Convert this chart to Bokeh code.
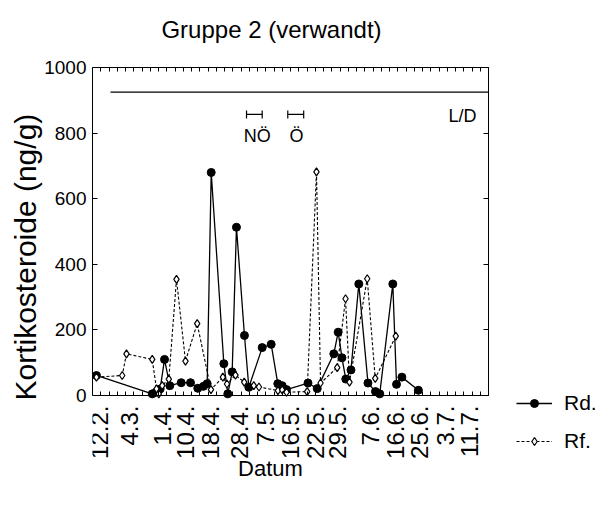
import math

from bokeh.plotting import figure
from bokeh.models import (Range1d, LinearAxis, FixedTicker, Legend,
                          LegendItem, Title)
from bokeh.core.properties import value
from bokeh.embed import file_html
from bokeh.resources import INLINE

FONT = "Liberation Sans"

# Sampling positions along the date axis (one unit = one minor tick)
rd_x = [0.48, 7.24, 7.7, 8.2, 8.73, 9.37, 10.75, 11.88, 12.76, 13.45, 13.9,
        14.39, 15.92, 16.4, 16.93, 17.45, 18.42, 18.95, 20.57, 21.66, 22.46,
        22.99, 23.52, 26.12, 27.24, 29.25, 29.78, 30.24, 30.7, 31.33, 32.28,
        33.39, 34.3, 34.82, 36.4, 36.85, 37.5, 39.5]
rd_y = [61, 5, 10, 20, 110, 30, 39, 39, 22, 28, 36,
        680, 97, 5, 72, 513, 183, 25, 146, 156, 36,
        30, 18, 38, 21, 127, 193, 115, 50, 78, 340,
        38, 12, 5, 340, 34, 56, 16]

rf_x = [0.48, 3.6, 4.12, 7.24, 7.76, 8.04, 8.45, 9.25, 10.18, 11.27, 12.69,
        14.36, 15.8, 16.3, 17.33, 18.39, 19.55, 20.18, 22.48, 22.99, 23.52,
        26.02, 27.15, 27.64, 29.66, 30.67, 31.15, 33.3, 34.27, 36.76]
rf_y = [56, 61, 127, 110, 20, 5, 30, 50, 354, 105, 219,
        18, 56, 35, 62, 41, 30, 26, 15, 17, 10,
        12, 682, 38, 85, 295, 41, 356, 52, 181]

# Date labels on the x axis
date_pos = [0.85, 4.48, 8.52, 11.27, 14.3, 17.82, 20.97, 24.0, 27.03, 29.7,
            33.7, 36.73, 39.64, 42.79, 45.7]
date_lab = ["12.2.", "4.3.", "1.4.", "10.4.", "18.4.", "28.4.", "7.5.",
            "16.5.", "22.5.", "29.5.", "7.6.", "16.6.", "25.6.", "3.7.",
            "11.7."]
y_ticks = [0, 200, 400, 600, 800, 1000]

# Light/dark bar and the two marked intervals
ld_start, ld_end, ld_level = 2.18, 48, 925
ld_text_x, ld_text_y = 44.85, 851
iv_start = [18.67, 23.67]
iv_end = [20.57, 25.6]
iv_level = 857
iv_names = ["NÖ", "Ö"]
iv_text_x = [19.96, 24.73]
iv_text_y = 790

# Axis box: x 0..48, y 0..1000.  The plotting area is widened past the box
# so that title, date labels, axis title and key can sit around it.
X_MAX, Y_MAX = 48, 1000
W, H = 605, 509
LEFT = 92
PX_X = 8.25            # pixels per x unit
PX_Y = 0.328           # pixels per y unit
BOX_BOTTOM = 395       # pixel row of y = 0
x_end = (W - LEFT) / PX_X
y_end = BOX_BOTTOM / PX_Y
y_start = -(H - BOX_BOTTOM) / PX_Y

minor_x = list(range(0, X_MAX + 1))

p = figure(width=W, height=H, x_range=Range1d(0, x_end),
           y_range=Range1d(y_start, y_end), output_backend="svg",
           toolbar_location=None, min_border_left=LEFT, min_border_right=0,
           min_border_top=0, min_border_bottom=0)
p.background_fill_color = "white"
p.border_fill_color = "white"
p.outline_line_color = None
p.xgrid.grid_line_color = None
p.ygrid.grid_line_color = None

# Bottom edge of the box: inward ticks, labels drawn as text below
xa = p.xaxis[0]
xa.fixed_location = 0
xa.bounds = (0, X_MAX)
xa.ticker = FixedTicker(ticks=minor_x)
xa.major_tick_in = 4
xa.major_tick_out = 0
xa.minor_tick_line_color = None
xa.major_label_standoff = 0
xa.major_label_text_color = None
xa.major_label_text_font_size = "1px"
xa.axis_line_color = "black"

# Left edge with value labels
ya = p.yaxis[0]
ya.bounds = (0, Y_MAX)
ya.ticker = FixedTicker(ticks=y_ticks)
ya.major_tick_in = 5
ya.major_tick_out = 0
ya.minor_tick_line_color = None
ya.major_label_standoff = 6
ya.major_label_text_font = FONT
ya.major_label_text_font_size = "19px"
ya.major_label_text_color = "black"
ya.axis_line_color = "black"

# Top and right edges of the box, ticks only
top = LinearAxis(fixed_location=Y_MAX, bounds=(0, X_MAX),
                 ticker=FixedTicker(ticks=minor_x), major_tick_in=4,
                 major_tick_out=0, minor_tick_line_color=None,
                 major_label_standoff=0, major_label_text_color=None,
                 major_label_text_font_size="1px", axis_line_color="black")
p.add_layout(top, "above")
right = LinearAxis(fixed_location=X_MAX, bounds=(0, Y_MAX),
                   ticker=FixedTicker(ticks=y_ticks), major_tick_in=5,
                   major_tick_out=0, minor_tick_line_color=None,
                   major_label_standoff=0, major_label_text_color=None,
                   major_label_text_font_size="1px", axis_line_color="black")
p.add_layout(right, "right")

# Date labels under the box
p.text(x=date_pos, y=[-10 / PX_Y] * len(date_pos), text=date_lab,
       angle=math.pi / 2, text_align="right", text_baseline="middle",
       text_font=value(FONT), text_font_size="24px", text_color="black")

# Data series
rd_line = p.line(rd_x, rd_y, line_color="black", line_width=1.3)
rd_pts = p.scatter(rd_x, rd_y, marker="circle", size=8,
                   fill_color="black", line_color="black")
rf_line = p.line(rf_x, rf_y, line_color="black", line_width=1.1,
                 line_dash="3 2")
rf_pts = p.scatter(rf_x, rf_y, marker="diamond", size=8,
                   fill_color="white", line_color="black", line_width=1.2)

# Light/dark bar and interval annotations
p.segment(x0=[ld_start], y0=[ld_level], x1=[ld_end], y1=[ld_level],
          line_color="black", line_width=1.2)
p.text(x=[ld_text_x], y=[ld_text_y], text=["L/D"], text_font=value(FONT),
       text_font_size="18px", text_align="center", text_baseline="middle",
       text_color="black")
p.segment(x0=iv_start, y0=[iv_level] * 2, x1=iv_end, y1=[iv_level] * 2,
          line_color="black", line_width=1.2)
p.scatter(x=iv_start + iv_end, y=[iv_level] * 4, marker="dash",
          angle=math.pi / 2, size=8, line_color="black", line_width=1.2)
p.text(x=iv_text_x, y=[iv_text_y] * 2, text=iv_names,
       text_font=value(FONT), text_font_size="18px", text_align="center",
       text_baseline="middle", text_color="black")

# Chart title and x-axis title
p.text(x=[(271 - LEFT) / PX_X], y=[(BOX_BOTTOM - 29) / PX_Y],
       text=["Gruppe 2 (verwandt)"], text_font=value(FONT),
       text_font_size="24px", text_align="center",
       text_baseline="alphabetic", text_color="black")
p.text(x=[(270 - LEFT) / PX_X], y=[(BOX_BOTTOM - 468) / PX_Y],
       text=["Datum"], text_font=value(FONT), text_font_size="22px",
       text_align="center", text_baseline="alphabetic", text_color="black")

# y-axis title
p.add_layout(Title(text="Kortikosteroide (ng/g)", align="left",
                   offset=H - 400, standoff=0, text_font=FONT,
                   text_font_size="30px", text_font_style="normal",
                   text_color="black"), "left")

# Key, lower right beside the box
legend = Legend(items=[LegendItem(label="Rd.", renderers=[rd_line, rd_pts]),
                       LegendItem(label="Rf.", renderers=[rf_line, rf_pts])],
                location=(516 - LEFT, 56), orientation="vertical",
                border_line_color=None, background_fill_alpha=0,
                padding=0, margin=0, spacing=14, glyph_width=36,
                glyph_height=20, label_height=24, label_standoff=12,
                label_text_font=FONT, label_text_font_size="21px",
                label_text_color="black")
p.add_layout(legend)

open("out.html", "w").write(file_html(p, INLINE))
